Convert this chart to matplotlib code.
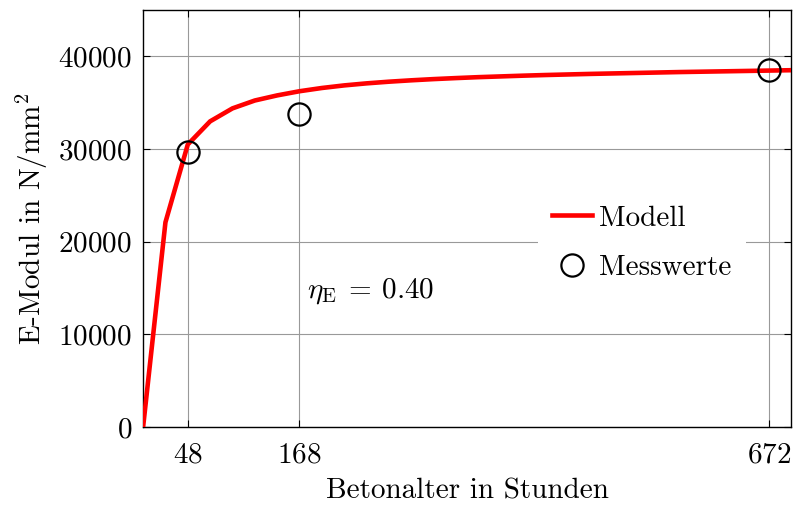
import numpy as np
import matplotlib
matplotlib.use("Agg")
import matplotlib.pyplot as plt

plt.rcParams["font.family"] = "serif"
plt.rcParams["font.serif"] = ["cmr10"]
plt.rcParams["mathtext.fontset"] = "cm"
plt.rcParams["axes.unicode_minus"] = False
plt.rcParams["axes.formatter.use_mathtext"] = True

# Modell: E-Modul alle 24 h
model_hours = [0, 24, 48, 72, 96, 120, 144, 168, 192, 216, 240, 264, 288, 312, 336,
               360, 384, 408, 432, 456, 480, 504, 528, 552, 576, 600, 624, 648, 672, 696]
model_E = [0, 22100, 30500, 33000, 34400, 35250, 35800, 36250, 36600, 36880, 37100,
           37280, 37430, 37560, 37670, 37770, 37850, 37930, 38000, 38060, 38120,
           38170, 38220, 38270, 38320, 38360, 38400, 38440, 38480, 38520]

# Messwerte
meas_hours = [48, 168, 672]
meas_E = [29700, 33750, 38490]

x_ticks = [48, 168, 672]
y_ticks = [0, 10000, 20000, 30000, 40000]
eta_E = 0.40

fs = 21
fig = plt.figure(figsize=(7.95, 5.09), dpi=100)
ax = fig.add_axes([0.180, 0.161, 0.815, 0.819])

ax.plot(model_hours, model_E, color="red", lw=3.3, label="Modell", zorder=3,
        solid_joinstyle="miter")
ax.plot(meas_hours, meas_E, ls="none", marker="o", ms=16, mfc="none", mec="black",
        mew=1.6, label="Messwerte", zorder=4)

ax.set_xlim(0, 696)
ax.set_ylim(0, 45000)
ax.set_xticks(x_ticks)
ax.set_yticks(y_ticks)
ax.grid(True, color="#999999", lw=0.8)
ax.set_axisbelow(True)
ax.tick_params(direction="in", top=True, right=True, length=5, width=0.8,
               labelsize=fs)
ax.tick_params(axis="x", pad=11)
ax.tick_params(axis="y", pad=8)
for s in ax.spines.values():
    s.set_linewidth(1.0)

ax.set_xlabel("Betonalter in Stunden", fontsize=fs, labelpad=7)
ax.set_ylabel(r"E-Modul in N/mm$^2$", fontsize=fs, labelpad=6)

ax.text(176, 14700, r"$\eta_{\mathrm{E}}\:=\:%.2f$" % eta_E, fontsize=fs,
        ha="left", va="center")

leg = ax.legend(loc="center", bbox_to_anchor=(0.77, 0.441), fontsize=fs,
                frameon=True, fancybox=False, framealpha=1, edgecolor="none",
                handlelength=1.35, handletextpad=0.25, labelspacing=0.8,
                borderpad=0.5)
leg.get_frame().set_facecolor("white")

fig.savefig("out.png", dpi=100)
